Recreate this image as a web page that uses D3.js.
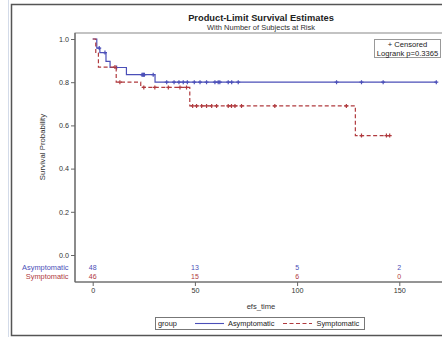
<!DOCTYPE html>
<html>
<head>
<meta charset="utf-8">
<script src="https://cdn.jsdelivr.net/npm/d3@7"></script>
<style>
  body { margin: 0; background: #fff; }
  svg { display: block; font-family: "Liberation Sans", Arial, sans-serif; }
</style>
</head>
<body>
<svg id="chart" width="442" height="337"></svg>
<script>
// group names and colours
const groups = ['Asymptomatic', 'Symptomatic'];
const colors = ['#4b4fb8', '#b03a3e'];

// Kaplan-Meier steps (event time, survival after it)
const asymTime = [0, 2, 3.5, 6.5, 8.5, 16.5, 30.5];
const asymSurv = [1.0, 0.958, 0.937, 0.896, 0.868, 0.835, 0.80];
const asymCensor = [3.2, 6, 11.7, 24.1, 24.5, 24.9, 25.3, 29.6, 36.2, 39.8, 42.2, 44.3, 46.3, 49.7,
  52.5, 55.7, 59.8, 61.4, 62.2, 66.3, 68, 71.2, 119.3, 131.5, 142.1, 168.1];

const symTime = [0, 1.5, 2.8, 11.5, 23.5, 47.5, 128.5];
const symSurv = [1.0, 0.935, 0.87, 0.80, 0.776, 0.69, 0.553];
const symCensor = [10.9, 13.3, 25, 30.4, 37, 42.7, 45.9, 48.9, 50.8, 53.3, 55.7, 58.2, 60.6,
  66.3, 67.9, 69.6, 72.8, 89.1, 124.1, 131.5, 143.7, 145.3];

// number at risk
const riskTimes = [0, 50, 100, 150];
const asymRisk = [48, 13, 5, 2];
const symRisk = [46, 15, 6, 0];

const xTicks = [0, 50, 100, 150];
const yTicks = [0, 0.2, 0.4, 0.6, 0.8, 1.0];

const svg = d3.select('#chart');

const plotLeft = 75, plotRight = 447, plotTop = 33, plotBottom = 282;

const x = d3.scaleLinear().domain([0, 150]).range([92.7, 399.3]);
const y = d3.scaleLinear().domain([0, 1]).range([255, 39]);

// left page strip
svg.append('line')
  .attr('x1', 8.5).attr('x2', 8.5).attr('y1', 0).attr('y2', 337)
  .attr('stroke', '#d3dbe9').attr('stroke-width', 1);

// outer graph frame
svg.append('rect')
  .attr('x', 11.5).attr('y', 4.5)
  .attr('width', 440).attr('height', 331)
  .attr('fill', '#fff')
  .attr('stroke', '#555').attr('stroke-width', 1.5);

// titles
svg.append('text')
  .attr('x', 261).attr('y', 20.5)
  .attr('text-anchor', 'middle')
  .attr('font-size', 9.3).attr('font-weight', 'bold')
  .attr('fill', '#222')
  .text('Product-Limit Survival Estimates');

svg.append('text')
  .attr('x', 261).attr('y', 29.5)
  .attr('text-anchor', 'middle')
  .attr('font-size', 7.5)
  .attr('fill', '#333')
  .text('With Number of Subjects at Risk');

// plot wall
svg.append('rect')
  .attr('x', plotLeft).attr('y', plotTop)
  .attr('width', plotRight - plotLeft).attr('height', plotBottom - plotTop)
  .attr('fill', 'none')
  .attr('stroke', '#888').attr('stroke-width', 1);

// y axis
const yAxis = svg.append('g')
  .attr('transform', `translate(${plotLeft},0)`)
  .call(d3.axisLeft(y).tickValues(yTicks).tickFormat(d3.format('.1f')).tickSize(4).tickPadding(2));
yAxis.select('.domain').remove();
yAxis.selectAll('line').attr('stroke', '#666');
yAxis.selectAll('text').attr('font-size', 7.2).attr('fill', '#333')
  .attr('font-family', '"Liberation Sans", Arial, sans-serif');

// x axis
const xAxis = svg.append('g')
  .attr('transform', `translate(0,${plotBottom})`)
  .call(d3.axisBottom(x).tickValues(xTicks).tickSize(4).tickPadding(2));
xAxis.select('.domain').remove();
xAxis.selectAll('line').attr('stroke', '#666');
xAxis.selectAll('text').attr('font-size', 7.2).attr('fill', '#333')
  .attr('font-family', '"Liberation Sans", Arial, sans-serif');

// axis lines
svg.append('line')
  .attr('x1', plotLeft).attr('x2', plotLeft).attr('y1', plotTop).attr('y2', plotBottom)
  .attr('stroke', '#666').attr('stroke-width', 1.2);
svg.append('line')
  .attr('x1', plotLeft).attr('x2', plotRight).attr('y1', plotBottom).attr('y2', plotBottom)
  .attr('stroke', '#666').attr('stroke-width', 1.2);

// axis labels
svg.append('text')
  .attr('transform', `translate(45,${(y(0) + y(1)) / 2}) rotate(-90)`)
  .attr('text-anchor', 'middle')
  .attr('font-size', 7.8).attr('fill', '#333')
  .text('Survival Probability');

svg.append('text')
  .attr('x', (plotLeft + plotRight) / 2).attr('y', 308.5)
  .attr('text-anchor', 'middle')
  .attr('font-size', 7.6).attr('fill', '#333')
  .text('efs_time');

// survival curves
function survAt(times, surv, t) {
  let s = surv[0];
  for (let i = 0; i < times.length; i++) {
    if (times[i] <= t) s = surv[i];
  }
  return s;
}

const curves = [
  { time: asymTime, surv: asymSurv, censor: asymCensor, dash: null },
  { time: symTime, surv: symSurv, censor: symCensor, dash: '4,2.5' }
];

const line = d3.line()
  .x(d => x(d[0]))
  .y(d => y(d[1]))
  .curve(d3.curveStepAfter);

curves.forEach((c, i) => {
  const end = d3.max(c.censor);
  const pts = c.time.map((t, j) => [t, c.surv[j]]);
  pts.push([end, c.surv[c.surv.length - 1]]);

  svg.append('path')
    .datum(pts)
    .attr('d', line)
    .attr('fill', 'none')
    .attr('stroke', colors[i])
    .attr('stroke-width', 1.2)
    .attr('stroke-dasharray', c.dash);

  svg.append('g')
    .selectAll('path')
    .data(c.censor)
    .enter()
    .append('path')
    .attr('transform', d => `translate(${x(d)},${y(survAt(c.time, c.surv, d))})`)
    .attr('d', 'M-2,0H2M0,-2V2')
    .attr('stroke', colors[i])
    .attr('stroke-width', 1.2);
});

// number at risk table
const riskRows = [asymRisk, symRisk];
const riskY = [269.5, 278.5];
riskRows.forEach((row, i) => {
  svg.append('text')
    .attr('x', 68.5).attr('y', riskY[i])
    .attr('text-anchor', 'end')
    .attr('font-size', 7.4)
    .attr('fill', colors[i])
    .text(groups[i]);

  svg.append('g')
    .selectAll('text')
    .data(row)
    .enter()
    .append('text')
    .attr('x', (d, j) => x(riskTimes[j]))
    .attr('y', riskY[i])
    .attr('text-anchor', 'middle')
    .attr('font-size', 7)
    .attr('fill', colors[i])
    .text(d => d);
});

// censored / logrank inset
const inset = svg.append('g');
inset.append('rect')
  .attr('x', 374.5).attr('y', 39.5)
  .attr('width', 66).attr('height', 18)
  .attr('fill', '#fff')
  .attr('stroke', '#999').attr('stroke-width', 1);
inset.append('text')
  .attr('x', 407.5).attr('y', 47)
  .attr('text-anchor', 'middle')
  .attr('font-size', 7.6).attr('fill', '#222')
  .text('+ Censored');
inset.append('text')
  .attr('x', 407.5).attr('y', 55.5)
  .attr('text-anchor', 'middle')
  .attr('font-size', 7.6).attr('fill', '#222')
  .text('Logrank p=0.3365');

// legend
const legend = svg.append('g');
legend.append('rect')
  .attr('x', 155.5).attr('y', 317.5)
  .attr('width', 209).attr('height', 12)
  .attr('fill', '#fff')
  .attr('stroke', '#777').attr('stroke-width', 1);
legend.append('text')
  .attr('x', 158).attr('y', 326.3)
  .attr('font-size', 7.4).attr('fill', '#222')
  .text('group');

const legendItems = [
  { x0: 195, x1: 224, tx: 228, dash: null },
  { x0: 283, x1: 312, tx: 316.5, dash: '4,2.5' }
];
legendItems.forEach((it, i) => {
  legend.append('line')
    .attr('x1', it.x0).attr('x2', it.x1).attr('y1', 323.5).attr('y2', 323.5)
    .attr('stroke', colors[i]).attr('stroke-width', 1.1)
    .attr('stroke-dasharray', it.dash);
  legend.append('text')
    .attr('x', it.tx).attr('y', 326.3)
    .attr('font-size', 7.4).attr('fill', '#222')
    .text(groups[i]);
});
</script>
</body>
</html>
